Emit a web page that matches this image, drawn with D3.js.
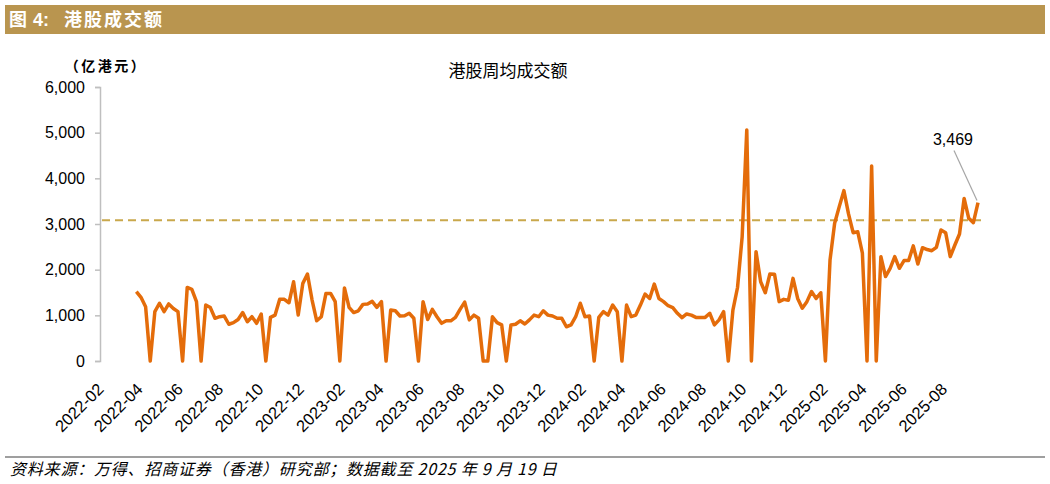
<!DOCTYPE html>
<html>
<head>
<meta charset="utf-8">
<script src="https://cdn.jsdelivr.net/npm/d3@7"></script>
<style>
  body { margin: 0; background: #fff; }
  text { font-family: "Liberation Sans", Arial, "Noto Sans CJK SC", sans-serif; }
  .cjk { font-family: "Noto Sans CJK SC", sans-serif; }
</style>
</head>
<body>
<div id="chart"></div>
<script>
// weekly average turnover (HKD 100m), last week ending 2025-09-19
const turnover = [
  1520, 1395, 1190, 0, 1080, 1265, 1080, 1250, 1150, 1080,
  0, 1610, 1570, 1300, 0, 1225, 1170, 935, 970, 985,
  805, 840, 910, 1060, 860, 970, 825, 1030, 0, 955,
  1005, 1350, 1350, 1275, 1735, 1005, 1700, 1905, 1335, 880,
  970, 1480, 1480, 1300, 0, 1600, 1175, 1060, 1100, 1240,
  1250, 1305, 1175, 1300, 0, 1115, 1100, 985, 990, 1045,
  935, 0, 1300, 910, 1130, 970, 825, 880, 880, 955,
  1130, 1290, 900, 1005, 935, 0, 0, 970, 840, 790,
  0, 790, 805, 880, 810, 900, 1005, 970, 1100, 1005,
  985, 935, 935, 750, 790, 970, 1265, 970, 985, 0,
  955, 1080, 1005, 1225, 1080, 0, 1225, 970, 1005, 1225,
  1465, 1370, 1685, 1370, 1300, 1210, 1170, 1045, 950, 1030,
  1005, 955, 950, 955, 1045, 790, 900, 1080, 0, 1115,
  1610, 2720, 5060, 0, 2395, 1735, 1495, 1905, 1900, 1300,
  1350, 1330, 1810, 1370, 1155, 1300, 1520, 1370, 1495, 0,
  2210, 3015, 3380, 3730, 3220, 2810, 2830, 2360, 0, 4270,
  0, 2285, 1850, 2030, 2285, 2030, 2200, 2200, 2520, 2125,
  2480, 2440, 2415, 2490, 2870, 2810, 2285, 2540, 2780, 3560,
  3125, 3030, 3469
];
const lastWeek = "2025-09-19";
const refLevel = 3080;

const xTickLabels = [
  "2022-02", "2022-04", "2022-06", "2022-08", "2022-10", "2022-12",
  "2023-02", "2023-04", "2023-06", "2023-08", "2023-10", "2023-12",
  "2024-02", "2024-04", "2024-06", "2024-08", "2024-10", "2024-12",
  "2025-02", "2025-04", "2025-06", "2025-08"
];
const yTicks = [0, 1000, 2000, 3000, 4000, 5000, 6000];

const W = 1050, H = 484;
const parseDay = d3.timeParse("%Y-%m-%d");
const parseMonth = d3.timeParse("%Y-%m");

const endDate = parseDay(lastWeek);
const weeks = turnover.map((v, i) => ({
  date: d3.timeDay.offset(endDate, -7 * (turnover.length - 1 - i)),
  value: v
}));

const svg = d3.select("#chart").append("svg")
  .attr("width", W).attr("height", H);

svg.append("rect").attr("width", W).attr("height", H).attr("fill", "#fff");

// header bar
svg.append("rect")
  .attr("x", 5).attr("y", 5).attr("width", 1040).attr("height", 29)
  .attr("fill", "#B9954F");
svg.append("text").attr("class", "cjk")
  .attr("x", 9).attr("y", 26)
  .attr("fill", "#fff").attr("font-size", 18).attr("font-weight", "bold")
  .text("图");
svg.append("text")
  .attr("x", 33).attr("y", 26)
  .attr("fill", "#fff").attr("font-size", 18).attr("font-weight", "bold")
  .text("4:");
svg.append("text").attr("class", "cjk")
  .attr("x", 64).attr("y", 26)
  .attr("fill", "#fff").attr("font-size", 18).attr("font-weight", "bold")
  .attr("letter-spacing", 2)
  .text("港股成交额");

// scales
const x = d3.scaleTime()
  .domain([parseMonth("2022-02"), endDate])
  .range([102, 978]);
const y = d3.scaleLinear()
  .domain([0, 6000])
  .range([361, 87]);

// titles
svg.append("text").attr("class", "cjk")
  .attr("x", 106).attr("y", 71)
  .attr("text-anchor", "middle")
  .attr("font-size", 14).attr("font-weight", "bold")
  .attr("letter-spacing", 2.5)
  .text("（亿港元）");
svg.append("text").attr("class", "cjk")
  .attr("x", 508).attr("y", 77)
  .attr("text-anchor", "middle")
  .attr("font-size", 17)
  .text("港股周均成交额");

// y axis
const yAxis = svg.append("g")
  .attr("transform", "translate(100,0)")
  .call(d3.axisLeft(y).tickValues(yTicks).tickSize(5).tickPadding(10)
    .tickFormat(d3.format(",")));
yAxis.selectAll("path, line").attr("stroke", "#BFBFBF").attr("stroke-width", 1.5);
yAxis.selectAll("text").attr("font-size", 16).attr("fill", "#000")
  .style("font-family", "'Liberation Sans', Arial, sans-serif");

// x axis labels (no axis line)
const xAxis = svg.append("g")
  .attr("transform", "translate(0,361)")
  .call(d3.axisBottom(x).tickValues(xTickLabels.map(parseMonth)).tickSize(0)
    .tickFormat(d3.timeFormat("%Y-%m")));
xAxis.select(".domain").remove();
xAxis.selectAll("text")
  .attr("font-size", 16.5).attr("fill", "#000")
  .style("font-family", "'Liberation Sans', Arial, sans-serif")
  .attr("text-anchor", "end")
  .attr("dy", "0.35em")
  .attr("transform", "translate(-4,23) rotate(-45)");

// reference dashed line
svg.append("line")
  .attr("x1", 102).attr("x2", x(endDate) + 3)
  .attr("y1", y(refLevel)).attr("y2", y(refLevel))
  .attr("stroke", "#C9A84C").attr("stroke-width", 2)
  .attr("stroke-dasharray", "8,5");

// turnover line
const line = d3.line()
  .x(d => x(d.date))
  .y(d => y(d.value));
svg.append("path")
  .datum(weeks)
  .attr("d", line)
  .attr("fill", "none")
  .attr("stroke", "#E46C0A")
  .attr("stroke-width", 3.5)
  .attr("stroke-linejoin", "round");

// last value callout
const last = weeks[weeks.length - 1];
const lx = x(last.date), ly = y(last.value);
svg.append("line")
  .attr("x1", lx - 24).attr("y1", ly - 52)
  .attr("x2", lx - 1).attr("y2", ly - 2)
  .attr("stroke", "#A6A6A6").attr("stroke-width", 1.2);
svg.append("text")
  .attr("x", lx - 25).attr("y", ly - 58)
  .attr("text-anchor", "middle")
  .attr("font-size", 16)
  .text(d3.format(",")(last.value));

// footer
svg.append("line")
  .attr("x1", 5).attr("x2", 1045).attr("y1", 457).attr("y2", 457)
  .attr("stroke", "#404040").attr("stroke-width", 1.2);
svg.append("text").attr("class", "cjk")
  .attr("x", 10).attr("y", 475)
  .attr("font-size", 16).attr("font-style", "italic")
  .attr("letter-spacing", 0.8)
  .text("资料来源：万得、招商证券（香港）研究部；数据截至 2025 年 9 月 19 日");
</script>
</body>
</html>
